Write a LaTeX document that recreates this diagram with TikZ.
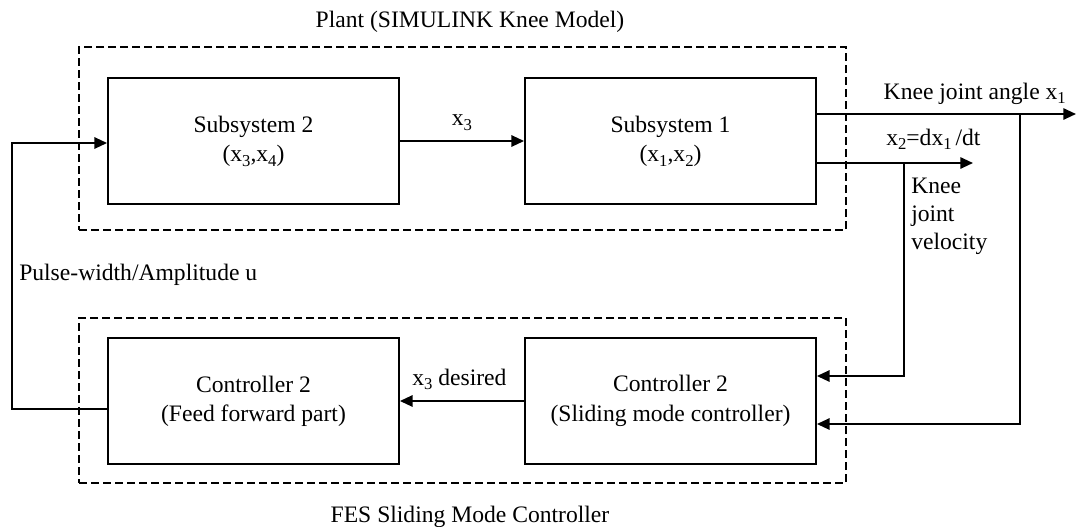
\documentclass[tikz,border=0pt]{standalone}
\usepackage{fontspec}
\setmainfont{Liberation Serif}
\usetikzlibrary{arrows.meta}
% lowered subscript in the text font
\newcommand{\sbs}[1]{\raisebox{-0.45ex}{\fontsize{12.5pt}{12.5pt}\selectfont #1}}
\begin{document}
\begin{tikzpicture}[x=0.75pt,y=-0.75pt,
  every node/.style={font=\fontsize{17.7pt}{22pt}\selectfont, inner sep=0pt},
  block/.style={draw, line width=1.4pt, minimum width=218.25pt, minimum height=94.5pt, align=center},
  frame/.style={draw, line width=1.4pt, dash pattern=on 6pt off 3pt, minimum width=575.25pt},
  conn/.style={line width=1.4pt},
  arr/.style={conn, -{Triangle[length=9.5pt,width=8.5pt]}}]
\useasboundingbox (0,0) rectangle (1076,526);

% dashed groups
\node[frame, minimum height=137.25pt] (plant) at (462.5,138.5) {};
\node[frame, minimum height=123.75pt] (ctrl) at (462.5,400.5) {};
\node[anchor=base] (plantlbl) at (470,27) {Plant (SIMULINK Knee Model)};
\node[anchor=base] (ctrllbl) at (470,522) {FES Sliding Mode Controller};

% blocks
\node[block] (sub2) at (253.5,141) {Subsystem 2\\(x\sbs{3},x\sbs{4})};
\node[block] (sub1) at (670.5,141) {Subsystem 1\\(x\sbs{1},x\sbs{2})};
\node[block] (ff) at (253.5,401) {Controller 2\\(Feed forward part)};
\node[block] (smc) at (670.5,401) {Controller 2\\(Sliding mode controller)};

% internal signals
\draw[arr] (sub2) -- (sub1) node[midway, above=7pt] (x3lbl) {x\sbs{3}};
\draw[arr] (smc) -- (ff);
\node[anchor=base west] (x3dlbl) at (412,385) {x\sbs{3} desired};

% plant outputs
\coordinate (o1) at (1076,114);
\coordinate (o2) at (973,163);
\coordinate (b1) at (1020,114);
\coordinate (b2) at (904,163);
\coordinate (f1) at (1020,424);
\coordinate (f2) at (904,376);
\draw[arr] (sub1.east |- o1) -- (o1);
\draw[arr] (sub1.east |- o2) -- (o2);
\draw[arr] (b1) -- (f1) -- (smc.east |- f1);
\draw[arr] (b2) -- (f2) -- (smc.east |- f2);
\node[anchor=base east] (anglelbl) at (1066,99) {Knee joint angle x\sbs{1}};
\node[anchor=base west] (ratelbl) at (886,145) {x\sbs{2}=dx\sbs{1}\,/dt};
\node[anchor=north west, align=left, font=\fontsize{17.7pt}{21pt}\selectfont] (vellbl) at (911,178) {Knee\\joint\\velocity};

% control input back to the plant
\coordinate (u1) at (12,409);
\coordinate (u2) at (12,143);
\draw[arr] (ff.west |- u1) -- (u1) -- (u2) -- (sub2.west |- u2);
\node[anchor=base west] (ulbl) at (19,280) {Pulse-width/Amplitude u};
\end{tikzpicture}
\end{document}
